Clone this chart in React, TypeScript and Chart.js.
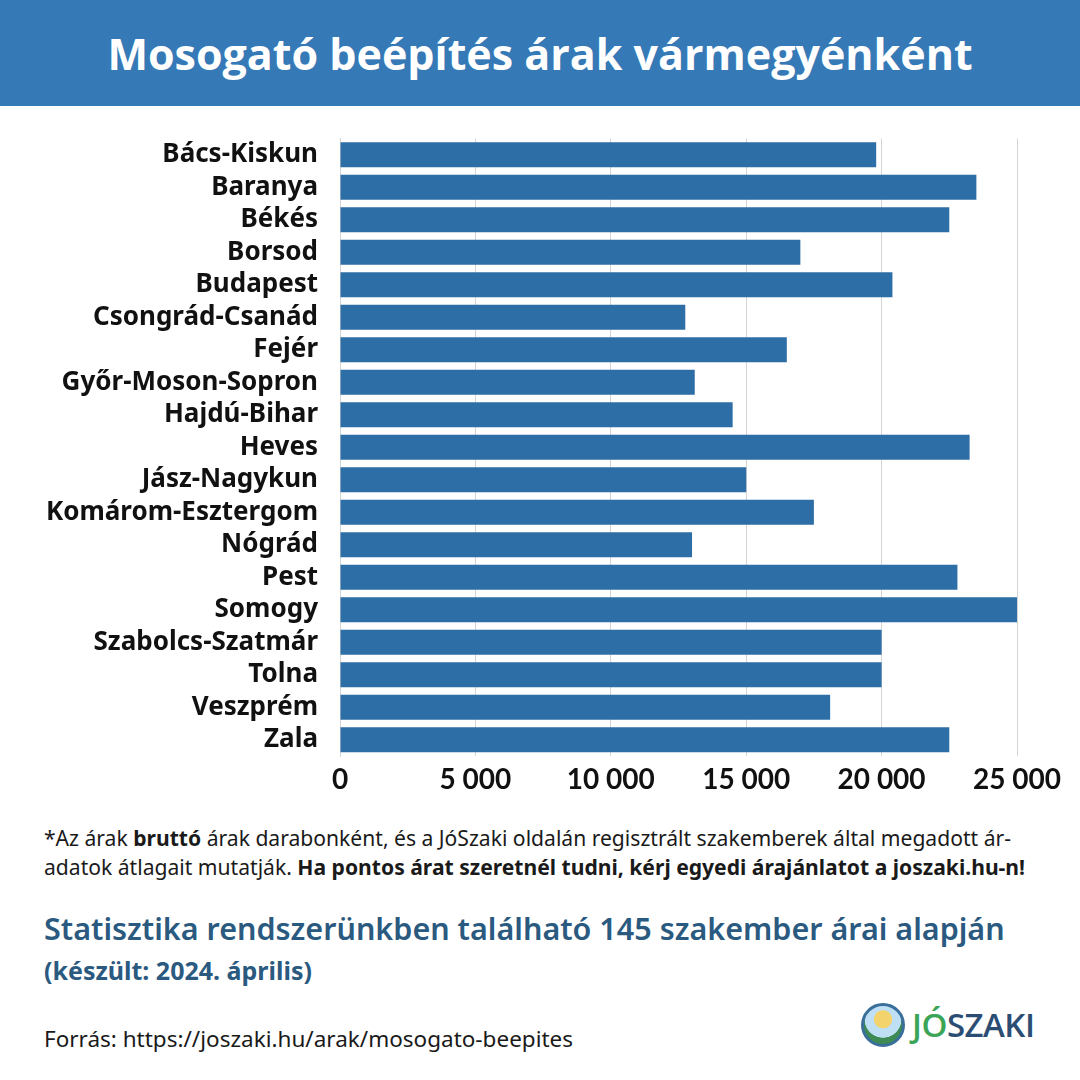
import React, { useEffect, useRef } from "react";
import { Chart, registerables } from "chart.js";

Chart.register(...registerables);

const counties = [
  "Bács-Kiskun", "Baranya", "Békés", "Borsod", "Budapest", "Csongrád-Csanád",
  "Fejér", "Győr-Moson-Sopron", "Hajdú-Bihar", "Heves", "Jász-Nagykun",
  "Komárom-Esztergom", "Nógrád", "Pest", "Somogy", "Szabolcs-Szatmár",
  "Tolna", "Veszprém", "Zala",
];
const prices = [
  19800, 23500, 22500, 17000, 20400, 12750,
  16500, 13100, 14500, 23250, 15000,
  17500, 13000, 22800, 25000, 20000,
  20000, 18100, 22500,
];
const xMin = 0;
const xMax = 25000;
const xStep = 5000;

const BAR = "#2e6ea6";
const HEAD = "#3579b7";
const DARKBLUE = "#2b5a80";

function fmt(v: number): string {
  const s = String(Math.round(v));
  return s.replace(/\B(?=(\d{3})+(?!\d))/g, " ");
}

export default function App() {
  const ref = useRef<HTMLCanvasElement | null>(null);
  useEffect(() => {
    if (!ref.current) return;
    const chart = new Chart(ref.current, {
      type: "bar",
      data: {
        labels: counties,
        datasets: [
          {
            data: prices,
            backgroundColor: BAR,
            borderWidth: 0,
            barPercentage: 0.77,
            categoryPercentage: 1,
          },
        ],
      },
      options: {
        indexAxis: "y",
        animation: false,
        responsive: false,
        maintainAspectRatio: false,
        layout: { padding: { top: 17, right: 63, left: 0, bottom: 0 } },
        plugins: { legend: { display: false }, tooltip: { enabled: false } },
        scales: {
          x: {
            min: xMin,
            max: xMax,
            ticks: {
              stepSize: xStep,
              color: "#111",
              padding: 7,
              font: { family: "Lato", size: 28, weight: "bold" },
              callback: (v: any) => fmt(Number(v)),
              maxRotation: 0,
            },
            grid: { color: "#d4d4d4", drawTicks: false, lineWidth: 1 },
            border: { display: false },
            afterFit: (s: any) => {
              s.height = 64;
            },
          },
          y: {
            ticks: {
              color: "#111",
              padding: 22,
              font: { family: "Noto Sans", size: 26, weight: "bold" },
              autoSkip: false,
            },
            grid: { display: false, drawTicks: false },
            border: { display: true, color: "#d4d4d4" },
            afterFit: (s: any) => {
              s.width = 340;
            },
          },
        },
      },
    } as any);
    return () => chart.destroy();
  }, []);

  const abs = (top: number, left: number, extra: React.CSSProperties = {}): React.CSSProperties => ({
    position: "absolute",
    top,
    left,
    whiteSpace: "nowrap",
    ...extra,
  });

  return (
    <div
      style={{
        position: "absolute",
        top: 0,
        left: 0,
        width: 1080,
        height: 1080,
        background: "#fff",
        overflow: "hidden",
        fontFamily: "'Noto Sans', sans-serif",
      }}
    >
      <div
        style={{
          position: "absolute",
          top: 0,
          left: 0,
          width: 1080,
          height: 106,
          background: HEAD,
          color: "#fff",
          display: "flex",
          alignItems: "center",
          justifyContent: "center",
          fontFamily: "'Open Sans', sans-serif",
          fontWeight: 700,
          fontSize: 43,
        }}
      >
        Mosogató beépítés árak vármegyénként
      </div>
      <canvas
        ref={ref}
        width={1080}
        height={719}
        style={{ position: "absolute", top: 101, left: 0, width: 1080, height: 719 }}
      />
      <div style={abs(823, 44, { fontSize: 21.1, lineHeight: "30px", color: "#1a1a1a" })}>
        *Az árak <b>bruttó</b> árak darabonként, és a JóSzaki oldalán regisztrált szakemberek által megadott ár-
      </div>
      <div style={abs(852, 44, { fontSize: 21.1, lineHeight: "30px", color: "#1a1a1a" })}>
        adatok átlagait mutatják. <b>Ha pontos árat szeretnél tudni, kérj egyedi árajánlatot a joszaki.hu-n!</b>
      </div>
      <div style={abs(907, 44, { fontSize: 30.5, lineHeight: "42px", color: DARKBLUE, fontWeight: 600 })}>
        Statisztika rendszerünkben található 145 szakember árai alapján
      </div>
      <div style={abs(953, 44, { fontSize: 25, lineHeight: "34px", color: DARKBLUE, fontWeight: 700 })}>
        (készült: 2024. április)
      </div>
      <div style={abs(1023, 44, { fontSize: 22.5, lineHeight: "32px", color: "#1a1a1a" })}>
        Forrás: https://joszaki.hu/arak/mosogato-beepites
      </div>
      <div style={abs(1003, 861, { display: "flex", alignItems: "center" })}>
        <div
          style={{
            width: 44,
            height: 44,
            borderRadius: "50%",
            border: "3px solid #3a6f9c",
            background: "radial-gradient(circle at 50% 35%, #f3d36b 0 28%, #bfe0f4 30% 58%, #3d8a55 60%)",
            boxSizing: "border-box",
          }}
        />
        <div
          style={{
            marginLeft: 7,
            fontFamily: "'Open Sans', sans-serif",
            fontWeight: 600,
            fontSize: 33,
            lineHeight: "42px",
            letterSpacing: -0.5,
          }}
        >
          <span style={{ color: "#3aa556" }}>JÓ</span>
          <span style={{ color: "#2b4d73" }}>SZAKI</span>
        </div>
      </div>
    </div>
  );
}
